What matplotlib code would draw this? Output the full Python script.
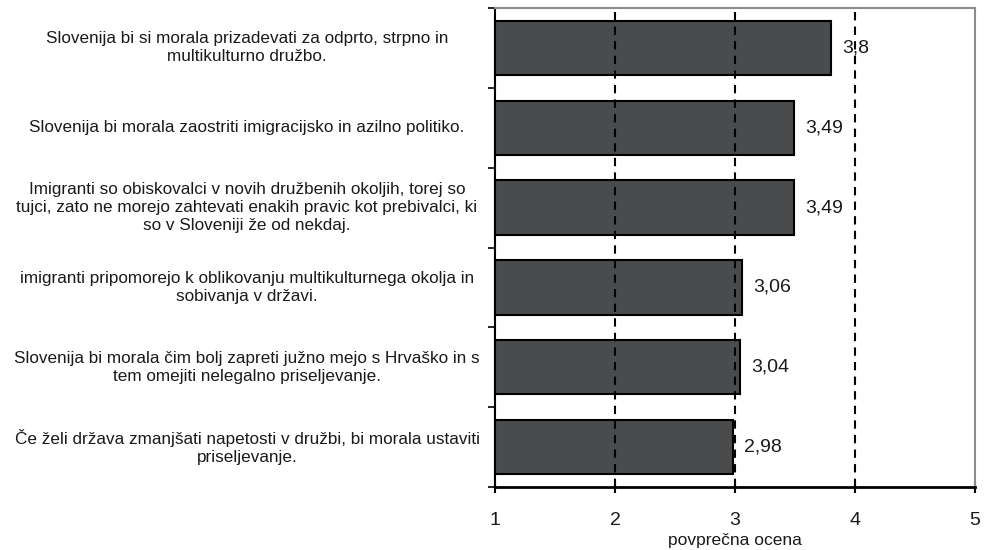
import numpy as np
import matplotlib.pyplot as plt
from matplotlib.transforms import blended_transform_factory

plt.rcParams["font.family"] = ["Liberation Sans", "DejaVu Sans"]

labels = [
    "Slovenija bi si morala prizadevati za odprto, strpno in\nmultikulturno družbo.",
    "Slovenija bi morala zaostriti imigracijsko in azilno politiko.",
    "Imigranti so obiskovalci v novih družbenih okoljih, torej so\ntujci, zato ne morejo zahtevati enakih pravic kot prebivalci, ki\nso v Sloveniji že od nekdaj.",
    "imigranti pripomorejo k oblikovanju multikulturnega okolja in\nsobivanja v državi.",
    "Slovenija bi morala čim bolj zapreti južno mejo s Hrvaško in s\ntem omejiti nelegalno priseljevanje.",
    "Če želi država zmanjšati napetosti v družbi, bi morala ustaviti\npriseljevanje.",
]
values = [3.8, 3.49, 3.49, 3.06, 3.04, 2.98]
value_text = ["3,8", "3,49", "3,49", "3,06", "3,04", "2,98"]
xticks = [1, 2, 3, 4, 5]

fig = plt.figure(figsize=(9.84, 5.5), dpi=100)
ax = fig.add_axes([495 / 984, 1 - 487 / 550, 480 / 984, 479 / 550])

y = np.arange(len(labels))
base = 1
ax.barh(y, np.array(values) - base, left=base, height=0.68,
        color="#4a4b4d", edgecolor="black", linewidth=1.5, zorder=3)

for yi, v, t in zip(y, values, value_text):
    ax.annotate(t, (v, yi), xytext=(8, 0), textcoords="offset points",
                va="center", ha="left", fontsize=14, color="#1a1a1a", zorder=5)

for gx in [2, 3, 4]:
    ax.axvline(gx, color="black", lw=1.5, ls=(0, (4, 3)), zorder=4)

ax.set_xlim(1, 5)
ax.set_ylim(len(labels) - 0.5, -0.5)
ax.set_xticks(xticks)
ax.set_xticklabels([str(x) for x in xticks], fontsize=14, color="#1a1a1a")
ax.tick_params(axis="x", direction="inout", length=8, width=1.5, pad=14)
ax.set_yticks(np.arange(-0.5, len(labels), 1.0))
ax.set_yticklabels([])
ax.tick_params(axis="y", direction="out", length=5, width=1.2)
ax.set_xlabel("povprečna ocena", fontsize=12.5, labelpad=3, color="#1a1a1a")

for s in ["top", "right"]:
    ax.spines[s].set_color("#8c8c8c")
    ax.spines[s].set_linewidth(1.5)
ax.spines["left"].set_linewidth(1.5)
ax.spines["bottom"].set_linewidth(2)

trans = blended_transform_factory(fig.transFigure, ax.transData)
for yi, lab in zip(y, labels):
    ax.text(247 / 984, yi, lab, transform=trans, fontsize=12.3, color="#1a1a1a",
            ha="center", va="center", multialignment="center", linespacing=1.25)

fig.savefig("out.png", dpi=100)
